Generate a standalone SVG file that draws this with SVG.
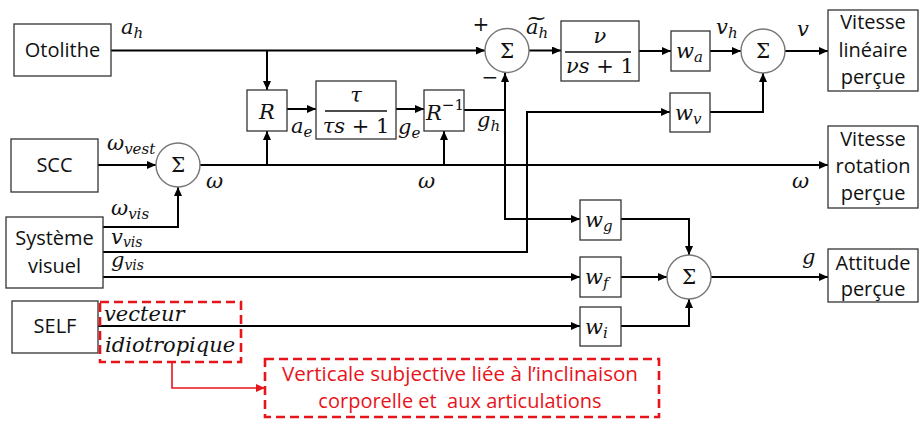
<svg xmlns="http://www.w3.org/2000/svg" width="921" height="421" viewBox="0 0 921 421">
<style>
.box{fill:#fff;stroke:#333;stroke-width:1.3}
.sum{fill:#fff;stroke:#777;stroke-width:1.4}
.wire{fill:none;stroke:#000;stroke-width:2}
.red{fill:none;stroke:#e8141b;stroke-width:1.6}
.dash{fill:none;stroke:#e8141b;stroke-width:2.6;stroke-dasharray:9 5}
.lbl{font-family:"Open Sans","Liberation Sans",sans-serif;font-size:20px;fill:#111;text-anchor:middle}
.rl{font-family:"Open Sans","Liberation Sans",sans-serif;font-size:20px;fill:#e8141b;text-anchor:middle}
.m{font-family:"DejaVu Serif","Liberation Serif",serif;font-style:italic;font-size:21px;fill:#111}
.up{font-style:normal}
.sg{font-family:"DejaVu Serif","Liberation Serif",serif;font-size:20px;fill:#111;text-anchor:middle}
</style>
<defs>
<marker id="ar" markerUnits="userSpaceOnUse" markerWidth="9" markerHeight="8" refX="9" refY="4" orient="auto"><path d="M0,0 L9,4 L0,8 z" fill="#000"/></marker>
<marker id="arr" markerUnits="userSpaceOnUse" markerWidth="9" markerHeight="8" refX="9" refY="4" orient="auto"><path d="M0,0 L9,4 L0,8 z" fill="#e8141b"/></marker>
</defs>

<g id="connectors">
<path class="wire" d="M111,50.5 H485" marker-end="url(#ar)"/>
<path class="wire" d="M267,50.5 V90" marker-end="url(#ar)"/>
<path class="wire" d="M287,109 H316" marker-end="url(#ar)"/>
<path class="wire" d="M396,109 H424" marker-end="url(#ar)"/>
<path class="wire" d="M464,110 H505 V73" marker-end="url(#ar)"/>
<path class="wire" d="M505,110 V219 H580" marker-end="url(#ar)"/>
<path class="wire" d="M98,165 H156" marker-end="url(#ar)"/>
<path class="wire" d="M200,165 H828" marker-end="url(#ar)"/>
<path class="wire" d="M267,165 V131" marker-end="url(#ar)"/>
<path class="wire" d="M444,165 V131" marker-end="url(#ar)"/>
<path class="wire" d="M103,227 H178 V187" marker-end="url(#ar)"/>
<path class="wire" d="M103,252 H527 V112 H670" marker-end="url(#ar)"/>
<path class="wire" d="M103,277 H580" marker-end="url(#ar)"/>
<path class="wire" d="M98,326 H580" marker-end="url(#ar)"/>
<path class="wire" d="M529,50.5 H561" marker-end="url(#ar)"/>
<path class="wire" d="M639,51 H671" marker-end="url(#ar)"/>
<path class="wire" d="M710,51 H741" marker-end="url(#ar)"/>
<path class="wire" d="M710,112 H763 V73" marker-end="url(#ar)"/>
<path class="wire" d="M785,51 H828" marker-end="url(#ar)"/>
<path class="wire" d="M621,219 H689 V255" marker-end="url(#ar)"/>
<path class="wire" d="M621,277 H667" marker-end="url(#ar)"/>
<path class="wire" d="M621,326 H689 V299" marker-end="url(#ar)"/>
<path class="wire" d="M711,277 H828" marker-end="url(#ar)"/>
<path class="red" d="M172,362 V388 H265" marker-end="url(#arr)"/>
</g>

<g id="otolithe"><rect class="box" x="14" y="24" width="97" height="52"/><text class="lbl" x="62.5" y="57">Otolithe</text></g>
<g id="scc"><rect class="box" x="11" y="139" width="87" height="53"/><text class="lbl" x="54.5" y="172">SCC</text></g>
<g id="systeme-visuel"><rect class="box" x="6" y="217" width="97" height="71"/><text class="lbl" x="54.5" y="245">Système</text><text class="lbl" x="54.5" y="273">visuel</text></g>
<g id="self"><rect class="box" x="12" y="301" width="86" height="52"/><text class="lbl" x="55" y="333">SELF</text></g>

<g id="R"><rect class="box" x="247" y="90" width="40" height="41"/><text class="m" x="267" y="119" text-anchor="middle">R</text></g>
<g id="tau-filter"><rect class="box" x="316" y="81" width="80" height="58"/><line x1="325" y1="111" x2="387" y2="111" stroke="#111" stroke-width="1.3"/><text class="m" x="356" y="102" text-anchor="middle">τ</text><text class="m" x="356" y="133" text-anchor="middle">τs<tspan class="up"> + 1</tspan></text></g>
<g id="R-inv"><rect class="box" x="424" y="90" width="40" height="41"/><text class="m" x="426" y="120">R<tspan class="up" font-size="15" dy="-10">−1</tspan></text></g>

<g id="sum-omega"><circle class="sum" cx="178" cy="165" r="22"/><text class="sg" x="178" y="172">Σ</text></g>
<g id="sum-a"><circle class="sum" cx="507" cy="50.5" r="22"/><text class="sg" x="507" y="57.5">Σ</text></g>
<g id="nu-filter"><rect class="box" x="561" y="21" width="78" height="60"/><line x1="565" y1="52" x2="631" y2="52" stroke="#111" stroke-width="1.3"/><text class="m" x="600" y="43" text-anchor="middle">ν</text><text class="m" x="600" y="73" text-anchor="middle">νs<tspan class="up"> + 1</tspan></text></g>
<g id="wa"><rect class="box" x="671" y="31" width="39" height="40"/><text class="m" x="676" y="58">w<tspan font-size="15" dy="4">a</tspan></text></g>
<g id="wv"><rect class="box" x="670" y="93" width="40" height="39"/><text class="m" x="675" y="120">w<tspan font-size="15" dy="4">v</tspan></text></g>
<g id="sum-v"><circle class="sum" cx="763" cy="51" r="22"/><text class="sg" x="763" y="58">Σ</text></g>
<g id="wg"><rect class="box" x="580" y="200" width="41" height="40"/><text class="m" x="585" y="227">w<tspan font-size="15" dy="4">g</tspan></text></g>
<g id="wf"><rect class="box" x="580" y="257" width="41" height="40"/><text class="m" x="585" y="284">w<tspan font-size="15" dy="4">f</tspan></text></g>
<g id="wi"><rect class="box" x="580" y="307" width="41" height="39"/><text class="m" x="585" y="334">w<tspan font-size="15" dy="4">i</tspan></text></g>
<g id="sum-g"><circle class="sum" cx="689" cy="277" r="22"/><text class="sg" x="689" y="284">Σ</text></g>

<g id="vitesse-lineaire"><rect class="box" x="828" y="10" width="90" height="81"/><text class="lbl" x="873" y="29">Vitesse</text><text class="lbl" x="873" y="57">linéaire</text><text class="lbl" x="873" y="84">perçue</text></g>
<g id="vitesse-rotation"><rect class="box" x="828" y="126" width="90" height="82"/><text class="lbl" x="873" y="146">Vitesse</text><text class="lbl" x="873" y="173">rotation</text><text class="lbl" x="873" y="200">perçue</text></g>
<g id="attitude"><rect class="box" x="828" y="249" width="90" height="53"/><text class="lbl" x="873" y="270">Attitude</text><text class="lbl" x="873" y="296">perçue</text></g>

<g id="vecteur-idiotropique"><rect class="dash" x="100" y="302" width="141" height="60"/><text class="m" x="104" y="321">vecteur</text><text class="m" x="105" y="352">idiotropique</text></g>
<g id="note"><rect class="dash" x="265" y="359" width="394" height="58"/><text class="rl" x="460" y="381" textLength="356" lengthAdjust="spacingAndGlyphs">Verticale subjective liée à l’inclinaison</text><text class="rl" x="460" y="408" xml:space="preserve">corporelle et  aux articulations</text></g>

<g id="labels">
<text class="m" x="121" y="34">a<tspan font-size="15" dy="4">h</tspan></text>
<text class="m" x="291" y="133">a<tspan font-size="15" dy="4">e</tspan></text>
<text class="m" x="398" y="134">g<tspan font-size="15" dy="4">e</tspan></text>
<text class="m" x="107" y="150">ω<tspan font-size="15" dy="4">vest</tspan></text>
<text class="m" x="206" y="188">ω</text>
<text class="m" x="418" y="188">ω</text>
<text class="m" x="792" y="188">ω</text>
<text class="m" x="111" y="215">ω<tspan font-size="15" dy="4">vis</tspan></text>
<text class="m" x="111" y="244">v<tspan font-size="14" dy="3">vis</tspan></text>
<text class="m" x="111" y="267">g<tspan font-size="14" dy="3">vis</tspan></text>
<text class="m" x="477" y="127">g<tspan font-size="15" dy="4">h</tspan></text>
<text class="sg" x="481" y="31">+</text>
<text class="sg" x="490" y="84">−</text>
<text class="m" x="526" y="34">a<tspan font-size="15" dy="4">h</tspan><tspan class="up" x="526" y="25" font-size="20" textLength="21" lengthAdjust="spacingAndGlyphs">~</tspan></text>
<text class="m" x="716" y="34">v<tspan font-size="15" dy="4">h</tspan></text>
<text class="m" x="797" y="36">v</text>
<text class="m" x="802" y="264">g</text>
</g>
</svg>
